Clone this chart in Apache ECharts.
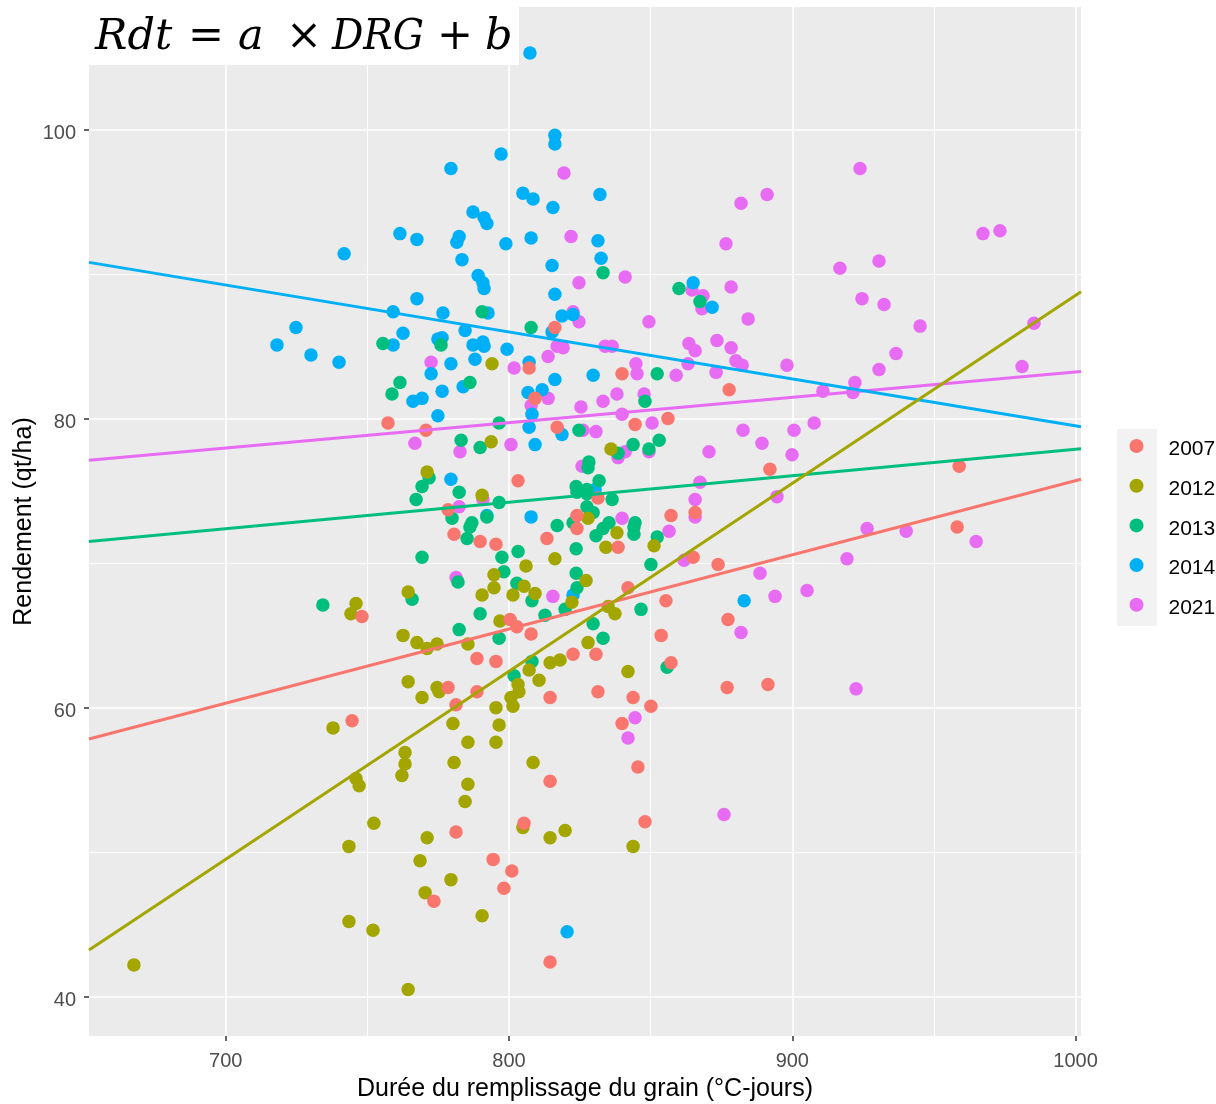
<!DOCTYPE html>
<html>
<head>
<meta charset="utf-8">
<style>html,body{margin:0;padding:0;background:#fff}#c{width:1216px;height:1104px}</style>
<script src="https://cdn.jsdelivr.net/npm/echarts@6/dist/echarts.min.js"></script>
</head>
<body>
<div id="c"></div>
<script>
const years = ['2007','2012','2013','2014','2021'];
const colors = {'2007':'#F8766D','2012':'#A3A500','2013':'#00BF7D','2014':'#00B0F6','2021':'#E76BF3'};
const xTicks = [700,800,900,1000];
const xMinorTicks = [750,850,950];
const yTicks = [40,60,80,100];
const yMinorTicks = [50,70,90];
const xRange = [651.75,1001.9];
const yRange = [37.28,108.48];

const pts2007 = [[757.3,79.7],[770.7,79.2],[816.2,86.3],[807.1,83.5],[839.9,83.1],[809.2,81.4],[877.7,82.0],[856.1,80.0],[844.5,79.6],[817,79.4],[803.2,75.7],[778.5,73.7],[780.6,72.0],[789.8,71.5],[795.4,71.3],[748.1,66.3],[800.4,66.1],[802.8,65.6],[788.7,63.4],[795.4,63.2],[788.7,61.1],[778.5,61.4],[831.4,74.5],[824,73.3],[824,72.4],[813.4,71.7],[838.5,71.1],[857.2,73.3],[865.7,73.5],[865,70.4],[873.8,69.9],[842,68.3],[855.4,67.4],[877.3,66.1],[807.8,65.1],[853.7,65.0],[822.6,63.7],[830.7,63.7],[857.2,63.1],[831.4,61.1],[814.5,60.7],[843.8,60.7],[877,61.4],[891.4,61.6],[781.3,60.2],[850.1,60.1],[839.9,58.9],[744.6,59.1],[845.5,55.9],[814.5,54.9],[848,52.1],[805.3,52.0],[781.3,51.4],[794.4,49.5],[801,48.7],[798.2,47.5],[773.5,46.6],[814.5,42.4],[892.1,76.5],[958.9,76.7],[958.2,72.5]];

const pts2012 = [[667.6,42.2],[794,83.8],[793.7,78.4],[836,77.9],[771.1,76.3],[790.5,74.7],[794.7,69.2],[794.7,68.3],[790.5,67.8],[801.4,67.8],[764.4,68.0],[746,67.2],[744.2,66.5],[796.8,66.0],[762.6,65.0],[767.5,64.5],[771.1,64.1],[774.6,64.4],[785.5,64.4],[764.4,61.8],[774.6,61.4],[775.3,61.1],[769.3,60.7],[800.7,60.7],[803.5,61.1],[803.2,61.6],[827.9,73.1],[838.1,72.1],[851.2,71.2],[834.2,71.1],[816.2,70.3],[806,69.8],[827.2,68.8],[805.3,68.4],[809.2,67.9],[822.2,67.3],[835,67.0],[837.4,66.5],[827.9,64.5],[814.5,63.1],[818,63.3],[807.1,62.6],[842,62.5],[810.6,61.9],[795.4,60.0],[801.4,60.1],[780.2,58.9],[796.5,58.8],[737.9,58.6],[785.5,57.6],[795.4,57.6],[763.3,56.9],[763.3,56.1],[780.6,56.2],[808.5,56.2],[762.2,55.3],[746,55.1],[747.1,54.6],[785.5,54.7],[784.5,53.5],[752.3,52.0],[804.9,51.7],[819.8,51.5],[814.5,51.0],[771.1,51.0],[743.5,50.4],[843.8,50.4],[768.6,49.4],[779.5,48.1],[770.4,47.2],[790.5,45.6],[743.5,45.2],[752,44.6],[764.4,40.5]];

const pts2013 = [[790.5,87.4],[807.8,86.3],[755.5,85.2],[776,85.1],[761.5,82.5],[758.7,81.7],[786.2,82.5],[833.2,90.1],[860,89.0],[867.4,88.1],[852.3,83.1],[848,81.2],[796.5,79.7],[783.1,78.5],[789.8,78.0],[824.7,79.2],[853,78.5],[843.8,78.2],[849.4,77.9],[838.5,77.6],[828.2,77.0],[827.9,76.6],[771.8,75.9],[769.3,75.3],[782.4,74.9],[823.7,75.3],[831.8,75.7],[827.5,75.1],[767.2,74.4],[796.5,74.2],[779.9,73.1],[786.9,72.8],[786.2,72.5],[792.2,73.2],[785.2,71.7],[769.3,70.4],[797.5,70.4],[803.2,70.8],[798.2,69.4],[802.8,68.6],[782,68.7],[765.8,67.5],[734.3,67.1],[789.8,66.5],[782.4,65.4],[796.5,64.8],[801.8,62.2],[824,74.9],[827.5,74.8],[836.4,74.4],[829.7,73.5],[827.5,73.9],[817,72.6],[822.6,72.8],[835.3,72.8],[833.2,72.4],[830.7,71.9],[844.5,72.8],[844.1,72.5],[844.1,72.0],[852.3,71.8],[823.7,71.0],[850.1,69.9],[823.7,69.3],[824,68.3],[808.1,67.4],[819.8,66.8],[812.7,66.4],[846.6,66.8],[829.7,65.8],[833.2,64.8],[808.1,63.2],[855.8,62.8]];

const pts2014 = [[807.4,105.3],[816.2,99.6],[816.2,99.0],[797.2,98.3],[779.5,97.3],[832.1,95.5],[804.9,95.6],[808.5,95.2],[815.5,94.6],[787.3,94.3],[791.2,93.9],[792.2,93.5],[761.5,92.8],[767.5,92.4],[782.4,92.6],[781.6,92.2],[798.9,92.1],[807.8,92.5],[831.4,92.3],[741.8,91.4],[783.4,91.0],[815.2,90.6],[832.5,91.1],[789.1,89.9],[790.8,89.4],[791.2,89.0],[816.2,88.6],[767.5,88.3],[759.1,87.4],[776.7,87.3],[792.6,87.3],[865,89.4],[871.7,87.7],[818.7,87.1],[822.6,87.2],[724.8,86.3],[762.6,85.9],[784.5,86.1],[815.2,86.0],[718.1,85.1],[759.1,85.1],[774.9,85.5],[776.4,85.6],[787.3,85.1],[790.8,85.3],[791.2,85.0],[730.1,84.4],[740,83.9],[788,84.1],[779.5,83.8],[799.3,84.8],[807.1,83.9],[772.5,83.1],[776.4,81.9],[783.8,82.2],[829.7,83.0],[816.2,82.7],[766.1,81.2],[769.3,81.4],[806.7,81.8],[811.7,82.0],[774.9,80.2],[808.1,80.3],[807.1,79.4],[818.7,78.9],[809.2,78.2],[779.5,75.8],[830.4,75.1],[792.2,73.3],[807.8,73.2],[822.6,67.8],[883,67.4],[820.5,44.5]];

const pts2021 = [[819.4,97.0],[821.9,92.6],[923.9,97.3],[891.1,95.5],[881.9,94.9],[876.6,92.1],[973.3,93.0],[967.3,92.8],[916.8,90.4],[930.6,90.9],[824.7,89.4],[841,89.8],[878.4,89.1],[864.6,88.9],[868.5,88.5],[868.1,87.6],[822.6,87.4],[824.7,86.7],[849.4,86.7],[924.6,88.3],[932.4,87.9],[884.4,86.9],[945.1,86.4],[985.3,86.6],[833.9,85.0],[836.4,85.0],[817,85.0],[819.1,84.9],[813.8,84.3],[863.5,85.2],[865.7,84.7],[873.4,85.4],[878.4,84.9],[880.1,84.0],[882.3,83.7],[936.6,84.5],[898.1,83.7],[930.6,83.4],[981.1,83.6],[863.2,83.8],[873.1,83.2],[844.8,83.8],[845.2,83.1],[772.5,83.9],[801.8,83.5],[859,83.0],[922.1,82.5],[910.8,81.9],[921.4,81.8],[813.8,81.4],[807.8,80.9],[838.1,81.7],[833.2,81.2],[825.4,80.8],[847.7,81.7],[839.9,80.3],[850.5,79.7],[907.7,79.7],[900.6,79.2],[882.6,79.2],[889.3,78.3],[899.9,77.5],[826.1,79.2],[830.7,79.1],[800.7,78.2],[766.8,78.3],[782.7,77.7],[870.6,77.7],[841,77.7],[838.5,77.3],[849.4,77.7],[825.8,76.7],[867.4,75.6],[782.4,73.9],[790.8,74.4],[894.6,74.6],[865.7,74.4],[865.7,73.2],[839.9,73.1],[856.5,72.2],[926.4,72.4],[940.2,72.2],[964.9,71.5],[919.3,70.3],[861.8,70.2],[888.6,69.3],[781.3,69.0],[905.2,68.1],[815.5,67.7],[893.9,67.7],[881.9,65.2],[922.5,61.3],[844.5,59.3],[842,57.9],[875.9,52.6]];

const fit2007 = [57.83,75.80];
const fit2012 = [43.23,88.78];
const fit2013 = [71.49,77.91];
const fit2014 = [90.81,79.43];
const fit2021 = [77.12,83.26];

const points = {'2007':pts2007,'2012':pts2012,'2013':pts2013,'2014':pts2014,'2021':pts2021};
const fits = {'2007':fit2007,'2012':fit2012,'2013':fit2013,'2014':fit2014,'2021':fit2021};

const scatterOrder = ['2021','2014','2013','2012','2007'];
const lineOrder = ['2007','2013','2021','2014','2012'];
const FONT = '"Liberation Sans", Arial, sans-serif';

const series = [];
scatterOrder.forEach(y => series.push({
  name:y, type:'scatter', data:points[y], symbol:'circle', symbolSize:13.5,
  itemStyle:{color:colors[y],opacity:1}, xAxisIndex:0, yAxisIndex:0, z:2, silent:true
}));
lineOrder.forEach(y => series.push({
  name:y+' fit', type:'line', showSymbol:false, silent:true, z:3,
  data:[[xRange[0],fits[y][0]],[xRange[1],fits[y][1]]],
  lineStyle:{color:colors[y],width:3}, xAxisIndex:0, yAxisIndex:0
}));

const grid = {left:89,right:135,top:7,bottom:68,show:true,backgroundColor:'#EBEBEB',borderWidth:0,outerBoundsMode:'none',containLabel:false};
const serif = '"DejaVu Serif", serif';
const titleParts = [
  {t:'Rdt',x:95,i:true,sx:1},{t:'=',x:188,i:false,sx:1},{t:'a',x:238,i:true,sx:1},
  {t:'×',x:286,i:false,sx:1},{t:'DRG',x:332,i:true,sx:0.91},{t:'+',x:437,i:false,sx:1},{t:'b',x:485,i:true,sx:1}
];
const plain = v => String(v);

const option = {
  animation:false,
  backgroundColor:'#fff',
  grid:[grid],
  legend:{
    data:years, orient:'vertical', left:1124.5, top:434, itemWidth:14, itemHeight:14, itemGap:18.7,
    icon:'circle', selectedMode:false,
    formatter:n => '{t|'+n+'}',
    textStyle:{fontFamily:FONT,fontSize:21,color:'#000',
      rich:{t:{fontFamily:FONT,fontSize:21,color:'#000',padding:[0,0,0,20],lineHeight:14,verticalAlign:'top'}}}
  },
  xAxis:[{
    type:'value', min:xRange[0], max:xRange[1], position:'bottom',
    name:'Durée du remplissage du grain (°C-jours)', nameLocation:'middle', nameGap:41,
    nameTextStyle:{fontFamily:FONT,fontSize:25,color:'#000'},
    axisLine:{show:false},
    axisTick:{show:true,length:5,lineStyle:{color:'#333',width:1.5},customValues:xTicks},
    axisLabel:{color:'#4D4D4D',fontFamily:FONT,fontSize:20,margin:15,customValues:xTicks,formatter:plain},
    splitLine:{show:true,lineStyle:{color:'#fff',width:1.6}}
  },{
    type:'value', min:xRange[0], max:xRange[1], position:'top',
    axisLine:{show:false},
    axisTick:{show:false,customValues:xMinorTicks},
    axisLabel:{show:false,customValues:xMinorTicks},
    splitLine:{show:true,lineStyle:{color:'#fff',width:1}}
  }],
  yAxis:[{
    type:'value', min:yRange[0], max:yRange[1], position:'left',
    name:'Rendement (qt/ha)', nameLocation:'middle', nameGap:52, nameRotate:90, nameMoveOverlap:false,
    nameTextStyle:{fontFamily:FONT,fontSize:25,color:'#000'},
    axisLine:{show:false},
    axisTick:{show:true,length:5,lineStyle:{color:'#333',width:1.5},customValues:yTicks},
    axisLabel:{color:'#4D4D4D',fontFamily:FONT,fontSize:20,margin:13,customValues:yTicks,formatter:plain,verticalAlign:'top',lineHeight:8},
    splitLine:{show:true,lineStyle:{color:'#fff',width:1.6}}
  },{
    type:'value', min:yRange[0], max:yRange[1], position:'right',
    axisLine:{show:false},
    axisTick:{show:false,customValues:yMinorTicks},
    axisLabel:{show:false,customValues:yMinorTicks},
    splitLine:{show:true,lineStyle:{color:'#fff',width:1}}
  }],
  graphic:[
    {type:'rect',z:1,silent:true,shape:{x:1117,y:429,width:40,height:197},style:{fill:'#F2F2F2'}},
    {type:'rect',z:5,silent:true,shape:{x:80,y:0,width:439,height:65},style:{fill:'#fff'}}
  ].concat(titleParts.map(p => ({
    type:'text',z:6,silent:true,x:p.x,y:16,scaleX:p.sx,style:{
      text:p.t, fill:'#000',
      font:(p.i?'italic ':'')+'43px '+serif
    }
  }))),
  series:series
};
const chart = echarts.init(document.getElementById('c'),null,{renderer:'canvas'});
chart.setOption(option);
</script>
</body>
</html>
